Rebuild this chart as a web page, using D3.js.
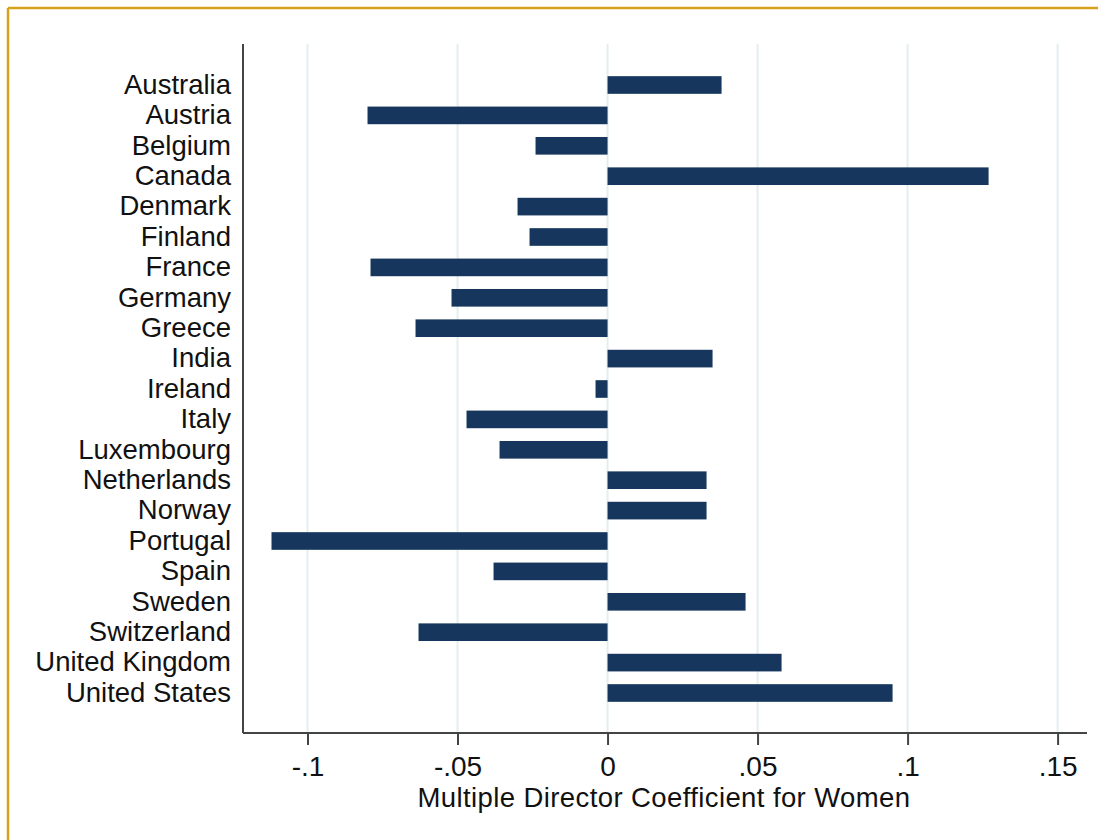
<!DOCTYPE html>
<html>
<head>
<meta charset="utf-8">
<script src="https://cdn.jsdelivr.net/npm/d3@7"></script>
<style>
  body { margin: 0; background: #fff; }
  svg { display: block; }
</style>
</head>
<body>
<svg id="chart"></svg>
<script>
const countries = ['Australia', 'Austria', 'Belgium', 'Canada', 'Denmark', 'Finland', 'France',
  'Germany', 'Greece', 'India', 'Ireland', 'Italy', 'Luxembourg', 'Netherlands', 'Norway',
  'Portugal', 'Spain', 'Sweden', 'Switzerland', 'United Kingdom', 'United States'];
const coefficients = [0.038, -0.080, -0.024, 0.127, -0.030, -0.026, -0.079,
  -0.052, -0.064, 0.035, -0.004, -0.047, -0.036, 0.033, 0.033,
  -0.112, -0.038, 0.046, -0.063, 0.058, 0.095];
const tickValues = [-0.1, -0.05, 0, 0.05, 0.1, 0.15];
const tickLabels = ['-.1', '-.05', '0', '.05', '.1', '.15'];
const axisTitle = 'Multiple Director Coefficient for Women';

const width = 1098;
const height = 840;
const font = '"Liberation Sans", Arial, sans-serif';
const fontSize = 27.5;

const data = countries.map((c, i) => ({ country: c, value: coefficients[i] }));

const svg = d3.select('#chart')
    .attr('width', width)
    .attr('height', height);

// gold frame on top and left
svg.append('line')
    .attr('x1', 8).attr('x2', width).attr('y1', 8).attr('y2', 8)
    .attr('stroke', '#d6a21e').attr('stroke-width', 2.5);
svg.append('line')
    .attr('x1', 8).attr('x2', 8).attr('y1', 8).attr('y2', height)
    .attr('stroke', '#d6a21e').attr('stroke-width', 2.5);

const x = d3.scaleLinear()
    .domain([-0.1215, 0.1598])
    .range([243, 1087]);

const y = d3.scaleBand()
    .domain(countries)
    .range([69.8, 708.2])
    .paddingInner(0.42)
    .paddingOuter(0.21);

const plotTop = 44;
const plotBottom = 733;

// vertical grid
svg.append('g')
    .selectAll('line')
    .data(tickValues)
    .enter()
    .append('line')
    .attr('x1', d => x(d)).attr('x2', d => x(d))
    .attr('y1', plotTop).attr('y2', plotBottom)
    .attr('stroke', '#e3eef1')
    .attr('stroke-width', 2);

// bars
svg.append('g')
    .selectAll('rect')
    .data(data)
    .enter()
    .append('rect')
    .attr('x', d => x(Math.min(0, d.value)))
    .attr('width', d => Math.abs(x(d.value) - x(0)))
    .attr('y', d => y(d.country))
    .attr('height', y.bandwidth())
    .attr('fill', '#17365d');

// x axis
const xAxis = d3.axisBottom(x)
    .tickValues(tickValues)
    .tickFormat((d, i) => tickLabels[i])
    .tickSize(12)
    .tickPadding(11);

const gx = svg.append('g')
    .attr('transform', `translate(0, ${plotBottom})`)
    .call(xAxis);
gx.select('.domain').attr('stroke', '#444').attr('stroke-width', 2)
    .attr('d', `M${x.range()[0]},0H${x.range()[1]}`);
gx.selectAll('.tick line').attr('stroke', '#444').attr('stroke-width', 2);
gx.selectAll('.tick text')
    .attr('font-family', font)
    .attr('font-size', 28)
    .attr('fill', '#111');

// y axis
const yAxis = d3.axisLeft(y)
    .tickSize(0)
    .tickPadding(12);

const gy = svg.append('g')
    .attr('transform', `translate(${x.range()[0]}, 0)`)
    .call(yAxis);
gy.select('.domain').attr('stroke', '#444').attr('stroke-width', 2)
    .attr('d', `M0,${plotTop}V${plotBottom}`);
gy.selectAll('.tick text')
    .attr('font-family', font)
    .attr('font-size', fontSize)
    .attr('fill', '#111');

// axis title
svg.append('text')
    .attr('x', (x.range()[0] + x.range()[1]) / 2 - 1)
    .attr('y', 807)
    .attr('text-anchor', 'middle')
    .attr('font-family', font)
    .attr('font-size', fontSize)
    .attr('letter-spacing', 0.4)
    .attr('fill', '#111')
    .text(axisTitle);
</script>
</body>
</html>
